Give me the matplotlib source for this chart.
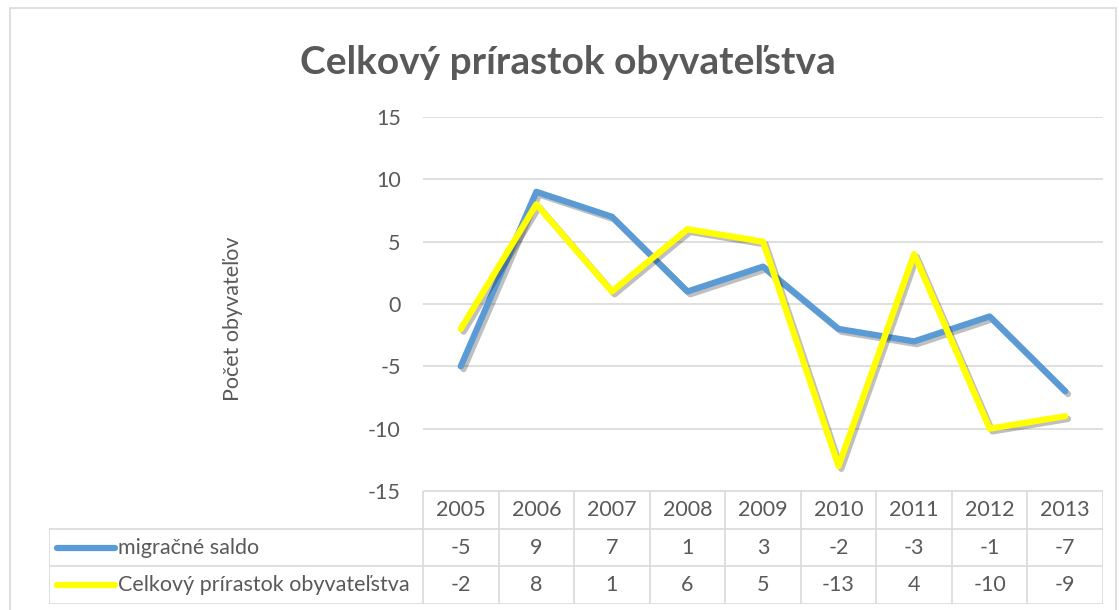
import matplotlib
matplotlib.use("Agg")
import matplotlib.pyplot as plt
import matplotlib.patheffects as pe
from matplotlib.patches import Rectangle

plt.rcParams["font.family"] = ["Lato", "DejaVu Sans"]
plt.rcParams["axes.unicode_minus"] = False

YEARS = ["2005", "2006", "2007", "2008", "2009", "2010", "2011", "2012", "2013"]
MIGRACNE = [-5, 9, 7, 1, 3, -2, -3, -1, -7]
CELKOVY = [-2, 8, 1, 6, 5, -13, 4, -10, -9]
SERIES = ["migračné saldo", "Celkový prírastok obyvateľstva"]
COLORS = ["#5B9BD5", "#FFFF00"]
TITLE = "Celkový prírastok obyvateľstva"
YLABEL = "Počet obyvateľov"

TXT = "#595959"
GRID = "#D9D9D9"
W, H = 1119, 610
FS = 15.5


def main():
    fig = plt.figure(figsize=(W / 100, H / 100), dpi=100)
    # pixel layout of the plot area
    L, R, T, B = 423, 1103, 117, 491
    ax = fig.add_axes([L / W, (H - B) / H, (R - L) / W, (B - T) / H])
    n = len(YEARS)
    x = list(range(n))
    shadow = [pe.SimpleLineShadow(offset=(2, -2), shadow_color="k", alpha=0.25, rho=0.3),
              pe.Normal()]
    for vals, c in zip([MIGRACNE, CELKOVY], COLORS):
        ax.plot(x, vals, color=c, lw=4.5, solid_capstyle="round",
                solid_joinstyle="round", path_effects=shadow, zorder=3)
    ax.set_xlim(-0.5, n - 0.5)
    ax.set_ylim(-15, 15)
    ax.set_yticks(range(-15, 16, 5))
    ax.set_xticks([])
    ax.grid(axis="y", color=GRID, lw=1.2)
    ax.set_axisbelow(True)
    for s in ax.spines.values():
        s.set_visible(False)
    ax.tick_params(axis="y", length=0, pad=16, labelsize=FS, labelcolor=TXT)

    fig.text(233 / W, 1 - 319 / H, YLABEL, rotation=90, ha="center", va="center",
             fontsize=FS, color=TXT)
    fig.text(568 / W, 1 - 62 / H, TITLE, ha="center", va="center",
             fontsize=28, fontweight="bold", color=TXT)

    # data table below the plot
    TL, TB = 49, 604
    col_w = (R - L) / W / n
    lw_units = (L - TL) / W / col_w
    tab = fig.add_axes([TL / W, (H - TB) / H, (R - TL) / W, (TB - B) / H])
    x0 = -0.5 - lw_units
    tab.set_xlim(x0, n - 0.5)
    tab.set_ylim(3, 0)
    tab.axis("off")
    tab.hlines(0, -0.5, n - 0.5, color=GRID, lw=1.2)
    tab.hlines([1, 2, 3], x0, n - 0.5, color=GRID, lw=1.2)
    tab.vlines([i - 0.5 for i in range(n + 1)], 0, 3, color=GRID, lw=1.2)
    tab.vlines(x0, 1, 3, color=GRID, lw=1.2)
    for i, yr in enumerate(YEARS):
        tab.text(i, 0.5, yr, ha="center", va="center", fontsize=FS, color=TXT)
        tab.text(i, 1.5, str(MIGRACNE[i]), ha="center", va="center", fontsize=FS, color=TXT)
        tab.text(i, 2.5, str(CELKOVY[i]), ha="center", va="center", fontsize=FS, color=TXT)
    for r, (name, c) in enumerate(zip(SERIES, COLORS)):
        y = 1.5 + r
        tab.plot([x0 + 0.11, x0 + 0.87], [y, y], color=c, lw=4.5, solid_capstyle="round")
        tab.text(x0 + 0.91, y, name, ha="left", va="center", fontsize=FS, color=TXT)

    fig.patches.append(Rectangle((10 / W, -0.01), 1106 / W, 1.01 - 8 / H,
                                 transform=fig.transFigure, fill=False,
                                 edgecolor=GRID, lw=1.2))
    fig.savefig("out.png", dpi=100)
    plt.close(fig)


if __name__ == "__main__":
    main()
